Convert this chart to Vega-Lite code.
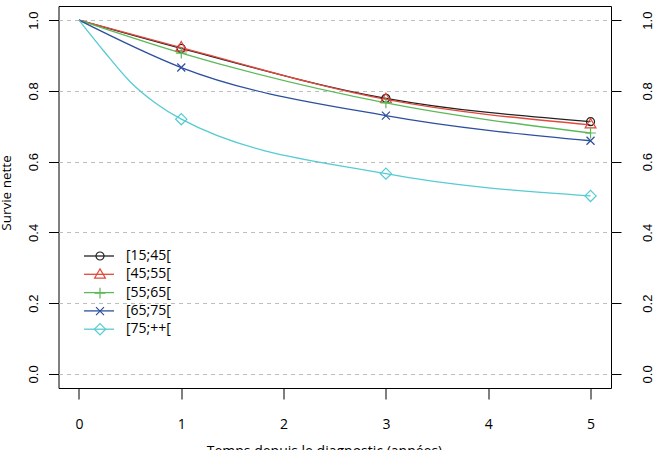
{
  "$schema": "https://vega.github.io/schema/vega-lite/v6.json",
  "width": 552.5,
  "height": 382,
  "autosize": "none",
  "padding": {"left": 58.5, "top": 6, "right": 43, "bottom": 62},
  "background": "white",
  "data": {
    "values": [
      {"g": "[15;45[", "t": 0, "s": 1},
      {"g": "[15;45[", "t": 1, "s": 0.92},
      {"g": "[15;45[", "t": 3, "s": 0.779},
      {"g": "[15;45[", "t": 5, "s": 0.713},
      {"g": "[45;55[", "t": 0, "s": 1},
      {"g": "[45;55[", "t": 1, "s": 0.922},
      {"g": "[45;55[", "t": 3, "s": 0.776},
      {"g": "[45;55[", "t": 5, "s": 0.704},
      {"g": "[55;65[", "t": 0, "s": 1},
      {"g": "[55;65[", "t": 1, "s": 0.907},
      {"g": "[55;65[", "t": 3, "s": 0.766},
      {"g": "[55;65[", "t": 5, "s": 0.681},
      {"g": "[65;75[", "t": 0, "s": 1},
      {"g": "[65;75[", "t": 1, "s": 0.866},
      {"g": "[65;75[", "t": 3, "s": 0.73},
      {"g": "[65;75[", "t": 5, "s": 0.659},
      {"g": "[75;++[", "t": 0, "s": 1},
      {"g": "[75;++[", "t": 0.25, "s": 0.91},
      {"g": "[75;++[", "t": 0.5, "s": 0.826},
      {"g": "[75;++[", "t": 0.75, "s": 0.765},
      {"g": "[75;++[", "t": 1, "s": 0.72},
      {"g": "[75;++[", "t": 3, "s": 0.566},
      {"g": "[75;++[", "t": 5, "s": 0.503}
    ]
  },
  "layer": [
    {
      "mark": {"type": "line", "interpolate": "monotone", "strokeWidth": 1.3},
      "encoding": {
        "x": {
          "field": "t", "type": "quantitative",
          "scale": {"domain": [-0.2, 5.2], "nice": false, "zero": false},
          "axis": {
            "values": [0, 1, 2, 3, 4, 5], "format": "d", "domain": false, "grid": false,
            "tickSize": 11, "tickColor": "black", "tickWidth": 1,
            "labelFont": "Open Sans", "labelFontSize": 14, "labelColor": "black", "labelPadding": 18.5,
            "title": "Temps depuis le diagnostic (années)",
            "titleFont": "Open Sans", "titleFontSize": 14, "titleFontWeight": "normal", "titleColor": "black",
            "titleX": 265.5, "titleY": 67, "titleAlign": "center", "titleBaseline": "alphabetic"
          }
        },
        "y": {
          "field": "s", "type": "quantitative",
          "scale": {"domain": [-0.04, 1.04], "nice": false, "zero": false},
          "axis": {
            "orient": "left", "values": [0, 0.2, 0.4, 0.6, 0.8, 1], "format": ".1f", "domain": false,
            "tickSize": 10, "tickColor": "black", "tickWidth": 1,
            "labelAngle": 270, "labelAlign": "center", "labelBaseline": "middle", "labelPadding": 15.5,
            "labelFont": "Liberation Sans", "labelFontSize": 13, "labelColor": "black",
            "grid": true, "gridDash": [4, 4], "gridColor": "#bdbdbd", "gridWidth": 1,
            "title": "Survie nette", "titleFont": "Open Sans", "titleFontSize": 13.5, "titleFontWeight": "normal",
            "titleColor": "black", "titleAngle": 270, "titleX": -48, "titleY": 186.5,
            "titleAlign": "center", "titleBaseline": "alphabetic"
          }
        },
        "stroke": {
          "field": "g", "type": "nominal",
          "scale": {
            "domain": ["[15;45[", "[45;55[", "[55;65[", "[65;75[", "[75;++["],
            "range": ["#222222", "#e2483c", "#5bb957", "#2c4f9e", "#55cbd2"]
          },
          "legend": {
            "orient": "none", "legendX": 33.5, "legendY": 243, "title": null,
            "symbolType": "M-3,0L3,0", "symbolSize": 100, "symbolStrokeWidth": 1.3,
            "labelFont": "Open Sans", "labelFontSize": 14, "labelColor": "black", "labelOffset": 20,
            "rowPadding": 4.3, "padding": 0
          }
        }
      }
    },
    {
      "transform": [{"filter": "datum.t == 1 || datum.t == 3 || datum.t == 5"}],
      "mark": {"type": "point", "filled": false, "strokeWidth": 1.2, "size": 64, "opacity": 1},
      "encoding": {
        "x": {
          "field": "t", "type": "quantitative",
          "scale": {"domain": [-0.2, 5.2], "nice": false, "zero": false},
          "axis": {
            "values": [0, 1, 2, 3, 4, 5], "format": "d", "domain": false, "grid": false,
            "tickSize": 11, "tickColor": "black", "tickWidth": 1,
            "labelFont": "Open Sans", "labelFontSize": 14, "labelColor": "black", "labelPadding": 18.5,
            "title": "Temps depuis le diagnostic (années)",
            "titleFont": "Open Sans", "titleFontSize": 14, "titleFontWeight": "normal", "titleColor": "black",
            "titleX": 265.5, "titleY": 67, "titleAlign": "center", "titleBaseline": "alphabetic"
          }
        },
        "y": {
          "field": "s", "type": "quantitative",
          "scale": {"domain": [-0.04, 1.04], "nice": false, "zero": false},
          "axis": {
            "orient": "right", "values": [0, 0.2, 0.4, 0.6, 0.8, 1], "format": ".1f", "domain": false,
            "tickSize": 10, "tickColor": "black", "tickWidth": 1, "grid": false,
            "labelAngle": 270, "labelAlign": "center", "labelBaseline": "middle", "labelPadding": 26,
            "labelFont": "Liberation Sans", "labelFontSize": 13, "labelColor": "black",
            "title": null
          }
        },
        "color": {
          "field": "g", "type": "nominal",
          "scale": {"range": ["#222222", "#e2483c", "#5bb957", "#2c4f9e", "#55cbd2"]},
          "legend": {
            "orient": "none", "legendX": 34.5, "legendY": 243, "title": null,
            "symbolSize": 64, "symbolStrokeWidth": 1.2, "symbolFillColor": "transparent",
            "labelExpr": "''", "labelFontSize": 14,
            "rowPadding": 3.05, "padding": 0
          }
        },
        "shape": {
          "field": "g", "type": "nominal",
          "scale": {
            "range": [
              "circle",
              "M0,-1.55L1.35,0.78L-1.35,0.78Z",
              "M-1.35,0L1.35,0M0,-1.35L0,1.35",
              "M-1,-1L1,1M-1,1L1,-1",
              "M-1.4,0L0,-1.4L1.4,0L0,1.4Z"
            ]
          },
          "legend": {
            "orient": "none", "legendX": 34.5, "legendY": 243, "title": null,
            "symbolSize": 64, "symbolStrokeWidth": 1.2, "symbolFillColor": "transparent",
            "labelExpr": "''", "labelFontSize": 14,
            "rowPadding": 3.05, "padding": 0
          }
        }
      }
    }
  ],
  "resolve": {"scale": {"y": "independent"}},
  "config": {
    "view": {"stroke": "black", "strokeWidth": 1},
    "font": "Open Sans"
  }
}
